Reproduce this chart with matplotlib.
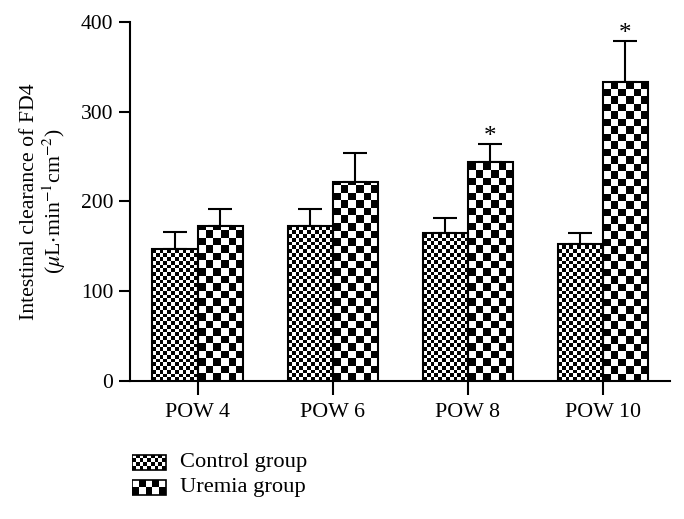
import matplotlib.pyplot as plt
import numpy as np
from matplotlib.patches import Rectangle

plt.rcParams['font.family'] = ['Liberation Serif', 'DejaVu Serif']
plt.rcParams['mathtext.fontset'] = 'stix'

categories = ['POW 4', 'POW 6', 'POW 8', 'POW 10']
control = [147, 173, 165, 152]
control_err = [19, 19, 17, 13]
uremia = [173, 222, 244, 333]
uremia_err = [19, 32, 20, 46]
uremia_sig = [False, False, True, True]
series_names = ['Control group', 'Uremia group']


def checker(ax, patch, cell_px):
    # fill a bar with a black/white checkerboard clipped to the bar
    x0, y0 = patch.get_x(), patch.get_y()
    w, h = patch.get_width(), patch.get_height()
    p0 = ax.transData.transform((x0, y0))
    p1 = ax.transData.transform((x0 + w, y0 + h))
    nx = max(1, int(round(abs(p1[0] - p0[0]) / cell_px)))
    ny = max(1, int(np.ceil(abs(p1[1] - p0[1]) / cell_px)))
    cell_h = h / (abs(p1[1] - p0[1]) / cell_px)
    img = (np.indices((ny, nx)).sum(axis=0) % 2).astype(float)
    im = ax.imshow(img, cmap='gray', interpolation='nearest', origin='lower',
                   extent=(x0, x0 + w, y0, y0 + ny * cell_h), aspect='auto',
                   zorder=patch.get_zorder() - 0.1)
    im.set_clip_path(patch)


fig = plt.figure(figsize=(6.84, 5.19), dpi=100)
ax = fig.add_axes([0.190, 0.266, 0.790, 0.692])

x = np.arange(len(categories))
w = 1 / 3
ax.set_xlim(-0.5, 3.5)
ax.set_ylim(0, 400)

b1 = ax.bar(x - w / 2, control, w, facecolor='none', edgecolor='black', linewidth=1.5, zorder=3)
b2 = ax.bar(x + w / 2, uremia, w, facecolor='none', edgecolor='black', linewidth=1.5, zorder=3)
ax.errorbar(x - w / 2, control, yerr=[np.zeros(4), control_err], fmt='none',
            ecolor='black', elinewidth=1.5, capsize=8.3, capthick=1.5, zorder=2)
ax.errorbar(x + w / 2, uremia, yerr=[np.zeros(4), uremia_err], fmt='none',
            ecolor='black', elinewidth=1.5, capsize=8.3, capthick=1.5, zorder=2)

for p in b1:
    checker(ax, p, 3.75)
for p in b2:
    checker(ax, p, 7.5)

for xi, v, e, s in zip(x, uremia, uremia_err, uremia_sig):
    if s:
        ax.text(xi + w / 2, v + e - 5, '*', ha='center', va='bottom', fontsize=18)

ax.spines['top'].set_visible(False)
ax.spines['right'].set_visible(False)
ax.spines['left'].set_linewidth(1.5)
ax.spines['bottom'].set_linewidth(1.5)
ax.set_yticks([0, 100, 200, 300, 400])
ax.set_xticks(x)
ax.set_xticklabels(categories)
ax.tick_params(axis='y', length=8, width=1.5, labelsize=15.5, pad=4)
ax.tick_params(axis='x', length=10, width=1.5, labelsize=15.8, pad=6)
ax.set_ylabel('Intestinal clearance of FD4\n($\\mu$L$\\cdot$min$^{-1}$cm$^{-2}$)',
              fontsize=15.7, labelpad=9, linespacing=1.1)

# legend drawn in its own axes so the swatches get the same checker fill
lax = fig.add_axes([0.193, 0.04, 0.4, 0.09])
lax.set_xlim(0, 1)
lax.set_ylim(0, 1)
lax.axis('off')
sw_w = 0.124
sw1 = Rectangle((0, 0.6), sw_w, 0.33, facecolor='none', edgecolor='black', linewidth=1.2, zorder=3)
sw2 = Rectangle((0, 0.07), sw_w, 0.33, facecolor='none', edgecolor='black', linewidth=1.2, zorder=3)
lax.add_patch(sw1)
lax.add_patch(sw2)
checker(lax, sw1, 3.75)
checker(lax, sw2, 7.5)
lax.text(0.175, 0.765, series_names[0], va='center', fontsize=16.2)
lax.text(0.175, 0.235, series_names[1], va='center', fontsize=16.2)

fig.savefig('out.png', dpi=100)
